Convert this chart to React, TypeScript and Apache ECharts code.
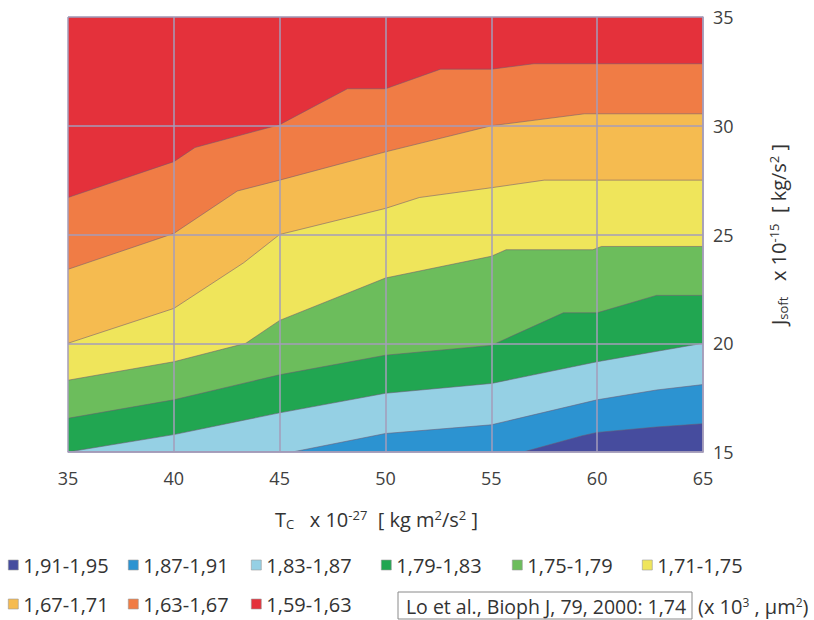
import React, { useEffect, useRef } from "react";
import * as echarts from "echarts";

// Tick settings
const X_MIN = 35, X_MAX = 65, X_STEP = 5;
const Y_MIN = 15, Y_MAX = 35, Y_STEP = 5;

// Upper boundary of each band [T_C, J_soft]
const redTop = [[35, 35], [65, 35]];
const orangeTop = [[35, 26.7], [40, 28.35], [41, 29.0], [45, 30.05], [48.2, 31.7], [50, 31.7], [52.6, 32.6], [55, 32.6], [57, 32.85], [65, 32.85]];
const lightOrangeTop = [[35, 23.4], [40, 25.05], [43, 27.0], [45, 27.5], [50, 28.8], [55, 30.0], [59.4, 30.55], [65, 30.55]];
const yellowTop = [[35, 20.0], [40, 21.6], [43.3, 23.7], [45, 25.0], [50, 26.2], [51.6, 26.7], [55, 27.15], [57.5, 27.5], [65, 27.5]];
const greenTop = [[35, 18.3], [40, 19.15], [43.4, 20.0], [45, 21.05], [50, 23.0], [55, 24.0], [55.7, 24.3], [59.8, 24.3], [60.2, 24.45], [65, 24.45]];
const darkGreenTop = [[35, 16.55], [40, 17.4], [45, 18.55], [50, 19.45], [55, 19.9], [58.4, 21.4], [60, 21.4], [62.8, 22.2], [65, 22.2]];
const lightBlueTop = [[35, 15], [40, 15.8], [45, 16.8], [50, 17.7], [55, 18.15], [60, 19.15], [65, 20.0]];
const blueTop = [[35, 15], [45.6, 15], [50, 15.85], [55, 16.25], [60, 17.4], [62.8, 17.85], [65, 18.1]];
const purpleTop = [[35, 15], [56.5, 15], [59.3, 15.75], [60, 15.9], [62.8, 16.15], [65, 16.3]];

const bandNames = ["1,59-1,63", "1,63-1,67", "1,67-1,71", "1,71-1,75", "1,75-1,79", "1,79-1,83", "1,83-1,87", "1,87-1,91", "1,91-1,95"];
const bandColors = ["#e4313b", "#f07c45", "#f5bb50", "#efe55b", "#6cbd5c", "#21a651", "#95d0e4", "#2c93d1", "#464c9e"];
const bandData = [redTop, orangeTop, lightOrangeTop, yellowTop, greenTop, darkGreenTop, lightBlueTop, blueTop, purpleTop];

// legend layout
const legendRow1 = ["1,91-1,95", "1,87-1,91", "1,83-1,87", "1,79-1,83", "1,75-1,79", "1,71-1,75"];
const legendRow2 = ["1,67-1,71", "1,63-1,67", "1,59-1,63"];
const legendRow1Left = [8, 128, 251, 381, 512, 642];
const legendRow2Left = [8, 128, 251];

const referenceText = "Lo et al., Bioph J, 79, 2000: 1,74";

const FONT = "'Open Sans', sans-serif";

export default function App() {
  const ref = useRef<HTMLDivElement>(null);
  useEffect(() => {
    if (!ref.current) return;
    const chart = echarts.init(ref.current, null, { renderer: "svg" });
    const gridColor = "#a59dba";
    const legends: any[] = [];
    const mkLegend = (name: string, left: number, top: number) => ({
      data: [name],
      left,
      top,
      padding: 0,
      icon: "rect",
      itemWidth: 10,
      itemHeight: 10,
      itemGap: 0,
      selectedMode: false,
      itemStyle: { borderColor: "#9a9a9a", borderWidth: 0.6 },
      textStyle: { fontSize: 20, color: "#333", fontFamily: FONT },
    });
    legendRow1.forEach((n, i) => legends.push(mkLegend(n, legendRow1Left[i], 555)));
    legendRow2.forEach((n, i) => legends.push(mkLegend(n, legendRow2Left[i], 594)));

    const series = bandNames.map((name, i) => ({
      name,
      type: "line",
      data: bandData[i],
      showSymbol: false,
      symbol: "none",
      color: bandColors[i],
      itemStyle: { color: bandColors[i] },
      lineStyle: { color: "rgba(110,90,115,0.55)", width: 1 },
      areaStyle: { color: bandColors[i], opacity: 1, origin: "start" },
      z: 2,
      silent: true,
    }));

    const richSup = { fontSize: 13, fontFamily: FONT, color: "#333", verticalAlign: "top", padding: [0, 0, 9, 0] };
    const richSub = { fontSize: 13, fontFamily: FONT, color: "#333", verticalAlign: "bottom", padding: [9, 0, 0, 0] };
    const richN = { fontSize: 20, fontFamily: FONT, color: "#333" };

    chart.setOption({
      animation: false,
      backgroundColor: "#ffffff",
      grid: { left: 68, top: 17, right: 111, bottom: 168, containLabel: false },
      legend: legends,
      xAxis: {
        type: "value",
        min: X_MIN,
        max: X_MAX,
        interval: X_STEP,
        z: 10,
        axisLine: { show: true, lineStyle: { color: gridColor, width: 1.5 } },
        axisTick: { show: false },
        splitLine: { show: true, lineStyle: { color: gridColor, width: 1.5 } },
        axisLabel: { fontSize: 18, color: "#404040", fontFamily: FONT, margin: 17 },
        name: "{n|T}{sub|C}{n|   x 10}{sup|-27}{n|  [ kg m}{sup|2}{n|/s}{sup|2}{n| ]}",
        nameLocation: "middle",
        nameGap: 56,
        nameTextStyle: { padding: [0, 18, 0, 0], rich: { n: richN, sup: richSup, sub: richSub } },
      },
      yAxis: {
        type: "value",
        position: "right",
        min: Y_MIN,
        max: Y_MAX,
        interval: Y_STEP,
        z: 10,
        axisLine: { show: true, lineStyle: { color: gridColor, width: 1.5 } },
        axisTick: { show: false },
        splitLine: { show: true, lineStyle: { color: gridColor, width: 1.5 } },
        axisLabel: { fontSize: 18, color: "#404040", fontFamily: FONT, margin: 10 },
        name: "{n|J}{sub|soft}{n|   x 10}{sup|-15}{n|  [ kg/s}{sup|2}{n| ]}",
        nameLocation: "middle",
        nameRotate: 90,
        nameGap: 64,
        nameTextStyle: { rich: { n: richN, sup: richSup, sub: richSub } },
      },
      series,
      graphic: [
        {
          type: "rect",
          shape: { x: 398, y: 592, width: 294, height: 27 },
          style: { fill: "#fff", stroke: "#8a8a8a", lineWidth: 1 },
          silent: true,
        },
        {
          type: "text",
          x: 546,
          y: 606,
          style: { text: referenceText, fontSize: 19.5, fontFamily: FONT, fill: "#333", align: "center", verticalAlign: "middle" },
          silent: true,
        },
        {
          type: "text",
          x: 698,
          y: 606,
          style: {
            text: "{n|(x 10}{sup|3}{n| , µm}{sup|2}{n|)}",
            align: "left",
            verticalAlign: "middle",
            rich: {
              n: { fontSize: 20, fontFamily: FONT, fill: "#333" },
              sup: { fontSize: 12, fontFamily: FONT, fill: "#333", verticalAlign: "top", padding: [0, 0, 8, 0] },
            },
          },
          silent: true,
        },
      ],
    });
    return () => chart.dispose();
  }, []);
  return <div ref={ref} style={{ position: "fixed", left: 0, top: 0, width: 814, height: 620 }} />;
}
